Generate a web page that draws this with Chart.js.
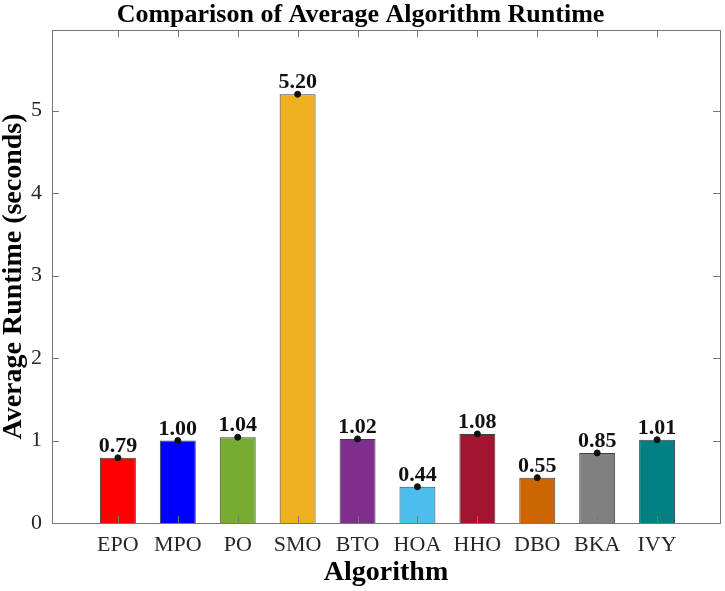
<!DOCTYPE html>
<html>
<head>
<meta charset="utf-8">
<script src="https://cdn.jsdelivr.net/npm/chart.js@4"></script>
<style>
  html, body { margin: 0; padding: 0; background: #fff; }
  #wrap { width: 725px; height: 591px; }
</style>
</head>
<body>
<div id="wrap"><canvas id="runtimeChart"></canvas></div>
<script>
// data
const categories = ['EPO', 'MPO', 'PO', 'SMO', 'BTO', 'HOA', 'HHO', 'DBO', 'BKA', 'IVY'];
const runtimes = [0.79, 1.00, 1.04, 5.20, 1.02, 0.44, 1.08, 0.55, 0.85, 1.01];
const barColors = ['#FF0000', '#0000FF', '#77AC30', '#EDB120', '#7E2F8E',
                   '#4DBEEE', '#A2142F', '#CC6600', '#808080', '#008080'];
const yTicks = [0, 1, 2, 3, 4, 5];

const serif = "'Liberation Serif', 'Times New Roman', serif";
const axisColor = '#777';

const points = runtimes.map((v, i) => ({ x: i + 1, y: v }));

// frame, inward ticks (matlab style) and value labels
const matlabAxes = {
  id: 'matlabAxes',
  afterDatasetsDraw(chart) {
    const ctx = chart.ctx;
    const area = chart.chartArea;
    const xs = chart.scales.x, ys = chart.scales.y;
    const tl = 7;

    // value labels
    const bars = chart.getDatasetMeta(1).data;
    ctx.save();
    ctx.fillStyle = '#111';
    ctx.font = 'bold 22px ' + serif;
    ctx.textAlign = 'center';
    ctx.textBaseline = 'alphabetic';
    bars.forEach((b, i) => {
      ctx.fillText(runtimes[i].toFixed(2), b.x, b.y - 6);
    });
    ctx.restore();

    ctx.save();
    ctx.strokeStyle = axisColor;
    ctx.lineWidth = 1;
    ctx.beginPath();
    xs.ticks.forEach(t => {
      const px = Math.round(xs.getPixelForValue(t.value)) + 0.5;
      ctx.moveTo(px, area.bottom); ctx.lineTo(px, area.bottom - tl);
      ctx.moveTo(px, area.top); ctx.lineTo(px, area.top + tl);
    });
    ys.ticks.forEach(t => {
      const py = Math.round(ys.getPixelForValue(t.value)) + 0.5;
      ctx.moveTo(area.left, py); ctx.lineTo(area.left + tl, py);
      ctx.moveTo(area.right, py); ctx.lineTo(area.right - tl, py);
    });
    ctx.stroke();
    ctx.strokeRect(Math.round(area.left) + 0.5, Math.round(area.top) + 0.5,
                   Math.round(area.right - area.left), Math.round(area.bottom - area.top));
    ctx.restore();
  }
};

new Chart('runtimeChart', {
  data: {
    datasets: [{
      type: 'line',
      data: points,
      showLine: false,
      pointRadius: 3,
      pointBackgroundColor: '#111',
      pointBorderColor: '#111',
      order: 0
    }, {
      type: 'bar',
      data: points,
      backgroundColor: barColors,
      borderColor: 'rgba(30,30,30,0.85)',
      borderWidth: 1,
      barPercentage: 0.6,
      categoryPercentage: 1,
      order: 1
    }]
  },
  options: {
    responsive: true,
    maintainAspectRatio: false,
    animation: false,
    layout: { padding: { right: 4 } },
    plugins: {
      legend: { display: false },
      tooltip: { enabled: false },
      title: {
        display: true,
        text: 'Comparison of Average Algorithm Runtime',
        color: '#000',
        font: { family: serif, size: 26, weight: 'bold', lineHeight: 1.15 },
        padding: { top: 0, bottom: 0 }
      }
    },
    scales: {
      x: {
        type: 'linear',
        offset: false,
        min: -0.1,
        max: 11.05,
        afterBuildTicks: s => { s.ticks = categories.map((c, i) => ({ value: i + 1 })); },
        afterFit: s => { s.height = 68; },
        grid: { display: false, drawTicks: false },
        border: { display: false },
        ticks: {
          color: '#262626',
          font: { family: serif, size: 22 },
          padding: 9,
          maxRotation: 0,
          callback: v => categories[v - 1] || ''
        },
        title: {
          display: true,
          text: 'Algorithm',
          color: '#000',
          font: { family: serif, size: 28, weight: 'bold', lineHeight: 1.1 },
          padding: { top: 0, bottom: 3 }
        }
      },
      y: {
        min: 0,
        max: 5.98,
        afterBuildTicks: s => { s.ticks = yTicks.map(v => ({ value: v })); },
        afterFit: s => { s.width = 52; },
        grid: { display: false, drawTicks: false },
        border: { display: false },
        ticks: {
          color: '#262626',
          font: { family: serif, size: 22 },
          padding: 10
        },
        title: {
          display: true,
          text: 'Average Runtime (seconds)',
          color: '#000',
          font: { family: serif, size: 28, weight: 'bold', lineHeight: 0.95 },
          padding: { top: 0, bottom: 0 }
        }
      }
    }
  },
  plugins: [matlabAxes]
});
</script>
</body>
</html>
